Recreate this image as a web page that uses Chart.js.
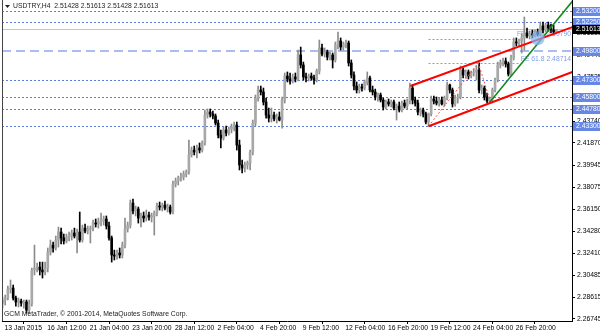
<!DOCTYPE html>
<html>
<head>
<meta charset="utf-8">
<script src="https://cdn.jsdelivr.net/npm/chart.js@4.4.1/dist/chart.umd.min.js"></script>
<style>
  html, body { margin: 0; padding: 0; background: #fff; }
  #wrap { width: 600px; height: 333px; }
</style>
</head>
<body>
<div id="wrap"><canvas id="chart" width="600" height="333"></canvas></div>
<script>
// USDTRY H4 candles (bar 0 = 13 Jan 2015 20:00)
const opens = [
  2.2811,2.2837,2.2854,2.2931,2.2940,2.2854,2.2820,2.2828,2.2811,2.2820,
  2.2751,2.2803,2.3095,2.3112,2.3120,2.3095,2.3078,2.3112,2.3249,2.3309,
  2.3284,2.3352,2.3421,2.3370,2.3344,2.3378,2.3387,2.3413,2.3387,2.3421,
  2.3352,2.3455,2.3430,2.3447,2.3455,2.3498,2.3490,2.3507,2.3516,2.3533,
  2.3473,2.3370,2.3224,2.3215,2.3241,2.3224,2.3309,2.3447,2.3481,2.3670,
  2.3602,2.3619,2.3541,2.3559,2.3541,2.3567,2.3550,2.3559,2.3584,2.3644,
  2.3636,2.3653,2.3627,2.3636,2.3593,2.3833,2.3859,2.3885,2.3894,2.3919,
  2.3937,2.4083,2.4125,2.4108,2.4143,2.4125,2.4186,2.4426,2.4452,2.4435,
  2.4418,2.4357,2.4254,2.4229,2.4297,2.4272,2.4306,2.4323,2.4340,2.4168,
  2.3997,2.3971,2.3997,2.4014,2.4108,2.4357,2.4572,2.4641,2.4624,2.4538,
  2.4426,2.4400,2.4426,2.4392,2.4409,2.4383,2.4555,2.4761,2.4735,2.4718,
  2.4753,2.4735,2.4942,2.4856,2.4753,2.4744,2.4761,2.4744,2.4727,2.4804,
  2.5002,2.4950,2.4967,2.4924,2.4942,2.4899,2.5027,2.5062,2.5010,2.5036,
  2.5045,2.4873,2.4770,2.4675,2.4641,2.4667,2.4658,2.4710,2.4744,2.4641,
  2.4624,2.4581,2.4598,2.4555,2.4495,2.4538,2.4521,2.4538,2.4486,2.4503,
  2.4469,2.4529,2.4503,2.4546,2.4658,2.4555,2.4529,2.4452,2.4469,2.4435,
  2.4366,2.4435,2.4564,2.4546,2.4529,2.4555,2.4521,2.4572,2.4684,2.4641,
  2.4521,2.4572,2.4581,2.4813,2.4770,2.4796,2.4761,2.4787,2.4796,2.4813,
  2.4641,2.4658,2.4581,2.4546,2.4564,2.4641,2.4727,2.4856,2.4873,2.4890,
  2.4864,2.4778,2.4916,2.5053,2.5045,2.5062,2.5088,2.5131,2.5105,2.5122,
  2.5113,2.5139,2.5122,2.5191,2.5156,2.5199,2.5173,2.5156,2.51428
];
const highs = [
  2.2863,2.2880,2.2957,2.3009,2.2966,2.2871,2.2854,2.2846,2.2837,2.2837,
  2.2837,2.3112,2.3309,2.3155,2.3163,2.3163,2.3163,2.3284,2.3352,2.3335,
  2.3387,2.3464,2.3455,2.3404,2.3404,2.3421,2.3438,2.3455,2.3447,2.3593,
  2.3481,2.3490,2.3473,2.3473,2.3524,2.3533,2.3541,2.3584,2.3559,2.3559,
  2.3507,2.3387,2.3266,2.3266,2.3284,2.3335,2.3541,2.3507,2.3696,2.3705,
  2.3644,2.3636,2.3584,2.3593,2.3610,2.3593,2.3584,2.3602,2.3670,2.3679,
  2.3670,2.3687,2.3662,2.3653,2.3859,2.3885,2.3902,2.3928,2.3945,2.3954,
  2.4211,2.4151,2.4160,2.4168,2.4186,2.4203,2.4469,2.4478,2.4478,2.4461,
  2.4435,2.4383,2.4297,2.4323,2.4332,2.4323,2.4349,2.4366,2.4366,2.4211,
  2.4040,2.4022,2.4031,2.4125,2.4383,2.4598,2.4675,2.4675,2.4658,2.4572,
  2.4486,2.4486,2.4452,2.4435,2.4452,2.4581,2.4787,2.4796,2.4787,2.4778,
  2.4787,2.4984,2.5010,2.4881,2.4787,2.4778,2.4787,2.4770,2.4821,2.5070,
  2.5036,2.5002,2.4984,2.4967,2.4959,2.5053,2.5139,2.5088,2.5053,2.5070,
  2.5062,2.4899,2.4796,2.4710,2.4692,2.4692,2.4727,2.4796,2.4761,2.4675,
  2.4649,2.4615,2.4615,2.4572,2.4555,2.4564,2.4555,2.4555,2.4521,2.4538,
  2.4546,2.4555,2.4564,2.4701,2.4684,2.4581,2.4555,2.4486,2.4486,2.4452,
  2.4443,2.4589,2.4589,2.4581,2.4572,2.4581,2.4589,2.4710,2.4692,2.4658,
  2.4598,2.4607,2.4847,2.4830,2.4813,2.4813,2.4804,2.4821,2.4847,2.4874,
  2.4684,2.4675,2.4615,2.4581,2.4658,2.4744,2.4881,2.4899,2.4916,2.4916,
  2.4881,2.4942,2.5088,2.5088,2.5079,2.5122,2.5268,2.5173,2.5148,2.5156,
  2.5156,2.5165,2.5225,2.5225,2.5216,2.5225,2.5208,2.5199,2.51613
];
const lows = [
  2.2768,2.2794,2.2837,2.2897,2.2837,2.2785,2.2777,2.2785,2.2768,2.2725,
  2.2725,2.2785,2.3052,2.3078,2.3052,2.3026,2.3052,2.3078,2.3224,2.3249,
  2.3266,2.3292,2.3318,2.3318,2.3327,2.3344,2.3352,2.3370,2.3241,2.3335,
  2.3335,2.3413,2.3404,2.3327,2.3430,2.3464,2.3455,2.3473,2.3481,2.3447,
  2.3352,2.3163,2.3181,2.3189,2.3198,2.3198,2.3284,2.3421,2.3455,2.3576,
  2.3559,2.3498,2.3464,2.3507,2.3516,2.3524,2.3507,2.3395,2.3559,2.3610,
  2.3602,2.3610,2.3593,2.3576,2.3576,2.3808,2.3825,2.3859,2.3868,2.3894,
  2.3919,2.4065,2.4083,2.4057,2.4100,2.4108,2.4168,2.4400,2.4409,2.4392,
  2.4340,2.4229,2.4143,2.4211,2.4246,2.4254,2.4272,2.4289,2.4125,2.3954,
  2.3928,2.3937,2.3962,2.3954,2.4083,2.4332,2.4546,2.4598,2.4512,2.4400,
  2.4366,2.4366,2.4375,2.4357,2.4375,2.4314,2.4529,2.4710,2.4692,2.4701,
  2.4710,2.4718,2.4830,2.4727,2.4710,2.4718,2.4727,2.4692,2.4710,2.4778,
  2.4933,2.4924,2.4899,2.4899,2.4830,2.4881,2.4993,2.4984,2.4984,2.5002,
  2.4847,2.4744,2.4641,2.4615,2.4615,2.4632,2.4641,2.4684,2.4624,2.4598,
  2.4555,2.4546,2.4538,2.4469,2.4478,2.4503,2.4495,2.4469,2.4383,2.4452,
  2.4452,2.4486,2.4478,2.4521,2.4521,2.4503,2.4426,2.4418,2.4409,2.4349,
  2.4330,2.4418,2.4521,2.4512,2.4503,2.4512,2.4503,2.4555,2.4615,2.4495,
  2.4503,2.4529,2.4564,2.4744,2.4744,2.4735,2.4744,2.4761,2.4727,2.4615,
  2.4607,2.4555,2.4529,2.4536,2.4538,2.4624,2.4710,2.4830,2.4847,2.4838,
  2.4761,2.4761,2.4899,2.5019,2.5019,2.4959,2.4984,2.5088,2.5079,2.5088,
  2.5096,2.5105,2.5105,2.5131,2.5139,2.5148,2.5131,2.5122,2.51428
];
const closes = [
  2.2837,2.2854,2.2931,2.2940,2.2854,2.2820,2.2828,2.2811,2.2820,2.2751,
  2.2803,2.3095,2.3112,2.3120,2.3095,2.3078,2.3112,2.3249,2.3309,2.3284,
  2.3352,2.3421,2.3370,2.3344,2.3378,2.3387,2.3413,2.3387,2.3421,2.3352,
  2.3455,2.3430,2.3447,2.3455,2.3498,2.3490,2.3507,2.3516,2.3533,2.3473,
  2.3370,2.3224,2.3215,2.3241,2.3224,2.3309,2.3447,2.3481,2.3670,2.3602,
  2.3619,2.3541,2.3559,2.3541,2.3567,2.3550,2.3559,2.3584,2.3644,2.3636,
  2.3653,2.3627,2.3636,2.3593,2.3833,2.3859,2.3885,2.3894,2.3919,2.3937,
  2.4083,2.4125,2.4108,2.4143,2.4125,2.4186,2.4426,2.4452,2.4435,2.4418,
  2.4357,2.4254,2.4229,2.4297,2.4272,2.4306,2.4323,2.4340,2.4168,2.3997,
  2.3971,2.3997,2.4014,2.4108,2.4357,2.4572,2.4641,2.4624,2.4538,2.4426,
  2.4400,2.4426,2.4392,2.4409,2.4383,2.4555,2.4761,2.4735,2.4718,2.4753,
  2.4735,2.4942,2.4856,2.4753,2.4744,2.4761,2.4744,2.4727,2.4804,2.5002,
  2.4950,2.4967,2.4924,2.4942,2.4899,2.5027,2.5062,2.5010,2.5036,2.5045,
  2.4873,2.4770,2.4675,2.4641,2.4667,2.4658,2.4710,2.4744,2.4641,2.4624,
  2.4581,2.4598,2.4555,2.4495,2.4538,2.4521,2.4538,2.4486,2.4503,2.4469,
  2.4529,2.4503,2.4546,2.4658,2.4555,2.4529,2.4452,2.4469,2.4435,2.4366,
  2.4435,2.4564,2.4546,2.4529,2.4555,2.4521,2.4572,2.4684,2.4641,2.4521,
  2.4572,2.4581,2.4813,2.4770,2.4796,2.4761,2.4787,2.4796,2.4813,2.4641,
  2.4658,2.4581,2.4546,2.4564,2.4641,2.4727,2.4856,2.4873,2.4890,2.4864,
  2.4778,2.4916,2.5053,2.5045,2.5062,2.5088,2.5131,2.5105,2.5122,2.5113,
  2.5139,2.5122,2.5191,2.5156,2.5199,2.5173,2.5156,2.5143,2.51613
];

// time axis: a label every 16 bars
const tickBars = [0, 16, 32, 48, 64, 80, 96, 112, 128, 144, 160, 176, 192];
const tickLabels = ['13 Jan 2015', '16 Jan 12:00', '21 Jan 04:00', '23 Jan 20:00', '28 Jan 12:00',
  '2 Feb 04:00', '4 Feb 20:00', '9 Feb 12:00', '12 Feb 04:00', '16 Feb 20:00',
  '19 Feb 12:00', '24 Feb 04:00', '26 Feb 20:00'];
const priceTicks = [2.53235, 2.51310, 2.49440, 2.47535, 2.45610, 2.43740, 2.41870, 2.39945,
  2.38075, 2.36150, 2.34280, 2.32410, 2.30485, 2.28615, 2.26745];

// horizontal levels drawn on the chart
const dottedLevels = [2.53200, 2.52250, 2.47300, 2.45800, 2.44780, 2.43300];
const dashedLevel = 2.49800;
const bidPrice = 2.51613;
const boxLevels = [2.53200, 2.52250, 2.49800, 2.47300, 2.45800, 2.44780, 2.43300];

// channel, trend line and fibo expansion points (bar index, price)
const channelTop = [{ x: 153.2, y: 2.4675 }, { x: 214.1, y: 2.5182 }];
const channelBottom = [{ x: 160, y: 2.4330 }, { x: 214.1, y: 2.4796 }];
const greenTrend = [{ x: 183, y: 2.4536 }, { x: 214.1, y: 2.5405 }];
const fiboPoints = [{ x: 160, y: 2.4330 }, { x: 178.7, y: 2.48735 }, { x: 183.3, y: 2.45355 }];
const fiboLevels = [{ name: 'FE 100.0', price: 2.50790 }, { name: 'FE 61.8', price: 2.48714 }];
const fiboMarker = { x: 201, y: 2.5086 };

const FONT = 'Liberation Sans, Arial, sans-serif';
const bull = ctx => closes[ctx.dataIndex] >= opens[ctx.dataIndex];

function hline(ctx, y, x0, x1) {
  const py = Math.round(y) + 0.5;
  ctx.beginPath();
  ctx.moveTo(x0, py);
  ctx.lineTo(x1, py);
  ctx.stroke();
}

const overlay = {
  id: 'overlay',
  beforeDatasetsDraw(chart) {
    const { ctx, chartArea: a, scales: { x, y } } = chart;
    ctx.save();
    ctx.beginPath();
    ctx.rect(a.left, a.top, a.right - a.left, a.bottom - a.top);
    ctx.clip();
    ctx.lineWidth = 1;

    ctx.strokeStyle = '#c6c6c6';
    ctx.setLineDash([]);
    hline(ctx, y.getPixelForValue(bidPrice), a.left, a.right);

    ctx.strokeStyle = '#5c7ddc';
    ctx.setLineDash([2, 2]);
    dottedLevels.forEach(v => hline(ctx, y.getPixelForValue(v), a.left, a.right));

    ctx.strokeStyle = '#a9bdf2';
    ctx.lineWidth = 2;
    ctx.setLineDash([9, 5]);
    const dy = Math.round(y.getPixelForValue(dashedLevel));
    ctx.beginPath();
    ctx.moveTo(a.left, dy);
    ctx.lineTo(a.right, dy);
    ctx.stroke();

    // fibo expansion levels with their captions
    ctx.font = '6.8px ' + FONT;
    ctx.textAlign = 'right';
    ctx.textBaseline = 'bottom';
    ctx.lineWidth = 1;
    fiboLevels.forEach(f => {
      const py = y.getPixelForValue(f.price);
      const txt = f.name + ' ' + f.price.toFixed(5);
      const w = ctx.measureText(txt).width;
      ctx.strokeStyle = '#7f9de6';
      ctx.setLineDash([2, 2]);
      hline(ctx, py, x.getPixelForValue(fiboPoints[0].x), a.right - w - 2);
      ctx.fillStyle = '#7f9de6';
      ctx.fillText(txt, a.right - 1, py - 1);
    });
    ctx.restore();
  },
  afterDatasetsDraw(chart) {
    const { ctx, scales: { x, y } } = chart;
    ctx.save();
    ctx.fillStyle = 'rgba(130, 180, 240, 0.7)';
    ctx.beginPath();
    ctx.arc(x.getPixelForValue(fiboMarker.x), y.getPixelForValue(fiboMarker.y), 7, 0, Math.PI * 2);
    ctx.fill();
    ctx.restore();
  },
  afterDraw(chart) {
    const { ctx, chartArea: a, scales: { y } } = chart;
    ctx.save();
    ctx.strokeStyle = '#444';
    ctx.lineWidth = 1;
    ctx.beginPath();
    ctx.moveTo(a.left + 0.5, 0);
    ctx.lineTo(a.left + 0.5, a.bottom);
    ctx.stroke();

    ctx.font = '6.8px ' + FONT;
    ctx.textBaseline = 'middle';
    ctx.textAlign = 'left';
    boxLevels.forEach(v => {
      const py = Math.round(y.getPixelForValue(v));
      ctx.fillStyle = '#6687e4';
      ctx.fillRect(a.right + 1, py - 4, 600 - a.right - 1, 9);
      ctx.fillStyle = '#fff';
      ctx.fillText(v.toFixed(5), a.right + 4, py + 0.5);
    });
    const bp = Math.round(y.getPixelForValue(bidPrice));
    ctx.fillStyle = '#000';
    ctx.fillRect(a.right + 1, bp - 4, 600 - a.right - 1, 9);
    ctx.fillStyle = '#fff';
    ctx.fillText(bidPrice.toFixed(5), a.right + 4, bp + 0.5);

    ctx.fillStyle = '#222';
    ctx.beginPath();
    ctx.moveTo(a.left + 3, 5);
    ctx.lineTo(a.left + 8, 5);
    ctx.lineTo(a.left + 5.5, 8);
    ctx.closePath();
    ctx.fill();
    ctx.fillText('USDTRY,H4  ' + [opens[opens.length - 1], highs[highs.length - 1],
      lows[lows.length - 1], closes[closes.length - 1]].map(v => v.toFixed(5)).join(' '), a.left + 11, 6.5);
    ctx.fillText('GCM MetaTrader, \u00a9 2001-2014, MetaQuotes Software Corp.', a.left + 2, a.bottom - 7);
    ctx.restore();
  }
};

const lineSet = (pts, color, width, dash) => ({
  type: 'line', data: pts, borderColor: color, borderWidth: width,
  borderDash: dash || [], pointRadius: 0, fill: false, order: 0, tension: 0
});

new Chart(document.getElementById('chart'), {
  type: 'bar',
  data: {
    datasets: [
      lineSet(channelTop, '#ff0000', 2),
      lineSet(channelBottom, '#ff0000', 2),
      lineSet(greenTrend, '#11891c', 1.5),
      lineSet(fiboPoints, '#ff4a4a', 1, [2, 2]),
      {
        data: opens.map((o, i) => ({ x: i, y: [o, closes[i]] })),
        backgroundColor: ctx => bull(ctx) ? '#a8a8a8' : '#000000',
        barThickness: 2, minBarLength: 1, grouped: false, order: 1
      },
      {
        data: highs.map((h, i) => ({ x: i, y: [lows[i], h] })),
        backgroundColor: ctx => bull(ctx) ? '#8c8c8c' : '#000000',
        barThickness: 1, grouped: false, order: 2
      }
    ]
  },
  options: {
    responsive: false,
    animation: false,
    devicePixelRatio: 1,
    layout: { padding: { left: 2, top: 0, right: 0, bottom: 0 } },
    plugins: { legend: { display: false }, tooltip: { enabled: false } },
    scales: {
      x: {
        type: 'linear', min: -0.2, max: 213.9, offset: false,
        afterFit: s => { s.height = 12; s.paddingLeft = 0; s.paddingRight = 0; },
        afterBuildTicks: s => { s.ticks = tickBars.map(v => ({ value: v })); },
        grid: { drawOnChartArea: false, tickLength: 3, color: '#000' },
        border: { display: true, color: '#000' },
        ticks: {
          align: 'start', padding: 0, labelOffset: 2, maxRotation: 0, autoSkip: false,
          color: '#000', font: { family: FONT, size: 6.8 },
          callback: (v, i) => tickLabels[i]
        }
      },
      y: {
        position: 'right', min: 2.2657, max: 2.5414,
        afterFit: s => { s.width = 28; s.paddingTop = 0; s.paddingBottom = 0; },
        afterBuildTicks: s => { s.ticks = priceTicks.map(v => ({ value: v })); },
        grid: { drawOnChartArea: false, tickLength: 3, color: '#000' },
        border: { display: true, color: '#000' },
        ticks: {
          padding: 2, color: '#000', font: { family: FONT, size: 6.8 },
          callback: v => v.toFixed(5)
        }
      }
    }
  },
  plugins: [overlay]
});
</script>
</body>
</html>
